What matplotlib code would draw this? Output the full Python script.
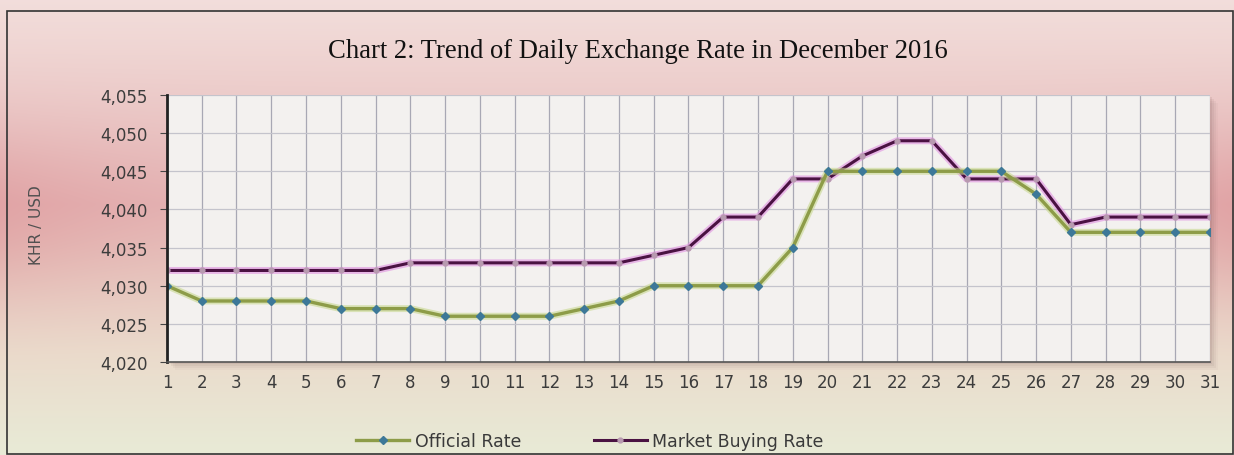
import matplotlib.pyplot as plt
import numpy as np
from matplotlib.patches import Rectangle
from matplotlib.ticker import FuncFormatter

# Daily rates, December 2016 (KHR per USD)
days = list(range(1, 32))
official_rate = [4030, 4028, 4028, 4028, 4028, 4027, 4027, 4027, 4026, 4026,
                 4026, 4026, 4027, 4028, 4030, 4030, 4030, 4030, 4035, 4045,
                 4045, 4045, 4045, 4045, 4045, 4042, 4037, 4037, 4037, 4037,
                 4037]
market_buying = [4032, 4032, 4032, 4032, 4032, 4032, 4032, 4033, 4033, 4033,
                 4033, 4033, 4033, 4033, 4034, 4035, 4039, 4039, 4044, 4044,
                 4047, 4049, 4049, 4044, 4044, 4044, 4038, 4039, 4039, 4039,
                 4039]
y_ticks = [4020, 4025, 4030, 4035, 4040, 4045, 4050, 4055]

fig = plt.figure(figsize=(12.34, 4.56), dpi=100)

# gradient background (pink top/middle, pale green at the bottom)
bg = fig.add_axes([0, 0, 1, 1], zorder=0)
bg.axis('off')
H, W = 228, 617
t = np.linspace(0, 1, H)[:, None]
s = np.linspace(0, 1, W)[None, :]
stops = [0.0, 0.1, 0.45, 0.78, 1.0]
cols = np.array([[0.95, 0.87, 0.86], [0.94, 0.84, 0.83], [0.90, 0.72, 0.72],
                 [0.92, 0.86, 0.80], [0.91, 0.92, 0.84]])
img = np.zeros((H, W, 3))
for c in range(3):
    img[:, :, c] = np.interp(t[:, 0], stops, cols[:, c])[:, None]
edge = np.exp(-((t - 0.47) / 0.18) ** 2) * (np.abs(s - 0.5) * 2) ** 3
img = img * (1 - 0.35 * edge[:, :, None]) + np.array([0.85, 0.5, 0.52]) * 0.35 * edge[:, :, None]
bg.imshow(img, aspect='auto', extent=[0, 1, 0, 1], interpolation='bilinear')
bg.set_xlim(0, 1)
bg.set_ylim(0, 1)
bg.add_patch(Rectangle((7 / 1234, 0.002), 1 - 8 / 1234, 1 - 12 / 456 - 0.002,
                       fill=False, edgecolor='#333333', lw=1.2))

# plot area with a soft shadow
left, bottom, width, height = 0.1353, 0.2039, 0.8452, 0.5856
for k, a in enumerate([0.10, 0.08, 0.06, 0.04]):
    off = (k + 1) * 2
    fig.patches.append(Rectangle((left + off / 1234, bottom - off / 456), width, height,
                                 transform=fig.transFigure, facecolor='#705050',
                                 alpha=a, edgecolor='none', zorder=1))

ax = fig.add_axes([left, bottom, width, height], zorder=2)
ax.set_facecolor('#f3f1ef')

ax.plot(days, market_buying, color='#e090e0', lw=5, alpha=0.6, solid_capstyle='round')
ax.plot(days, market_buying, color='#4a1242', lw=2.2, marker='o', markersize=3.5,
        markerfacecolor='#b89ab0', markeredgecolor='#b89ab0', label='Market Buying Rate')
ax.plot(days, official_rate, color='#c8d890', lw=5, alpha=0.6, solid_capstyle='round')
ax.plot(days, official_rate, color='#8d9c48', lw=2.4, marker='D', markersize=4.5,
        markerfacecolor='#3d7898', markeredgecolor='#3d7898', label='Official Rate')

ax.set_xlim(1, 31)
ax.set_ylim(4020, 4055)
ax.set_xticks(days)
ax.set_yticks(y_ticks)
ax.yaxis.set_major_formatter(FuncFormatter(lambda v, p: f'{v:,.0f}'))
ax.grid(axis='x', color='#a8a8b4', lw=0.9)
ax.grid(axis='y', color='#c4c4cc', lw=0.9)
ax.set_axisbelow(True)
for sp in ['top', 'right']:
    ax.spines[sp].set_visible(False)
ax.spines['left'].set_color('#222222')
ax.spines['left'].set_linewidth(2)
ax.spines['bottom'].set_color('#555555')
ax.spines['bottom'].set_linewidth(1.2)
ax.tick_params(axis='y', length=5, color='#444444', labelsize=12, labelcolor='#3c3c3c', pad=9)
ax.tick_params(axis='x', length=0, labelsize=12, labelcolor='#3c3c3c', pad=8)
for lab in ax.get_xticklabels() + ax.get_yticklabels():
    lab.set_family('DejaVu Sans')

fig.text(36 / 1234, 1 - 225 / 456, 'KHR / USD', rotation=90, ha='center', va='center',
         fontsize=11, color='#505050', family='Liberation Sans Narrow')
fig.text(0.5166, 1 - 52 / 456, 'Chart 2: Trend of Daily Exchange Rate in December 2016',
         ha='center', va='center', fontsize=19.2, family='Liberation Serif', color='#111111')

handles, labels = ax.get_legend_handles_labels()
fig.legend(handles[::-1], labels[::-1], loc='center', bbox_to_anchor=(0.478, 1 - 442 / 456),
           ncol=2, frameon=False, handlelength=3.05, handletextpad=0.3, columnspacing=4.2,
           prop={'family': 'DejaVu Sans', 'size': 12.5}, labelcolor='#3a3a3a')

fig.savefig('out.png', dpi=100)
